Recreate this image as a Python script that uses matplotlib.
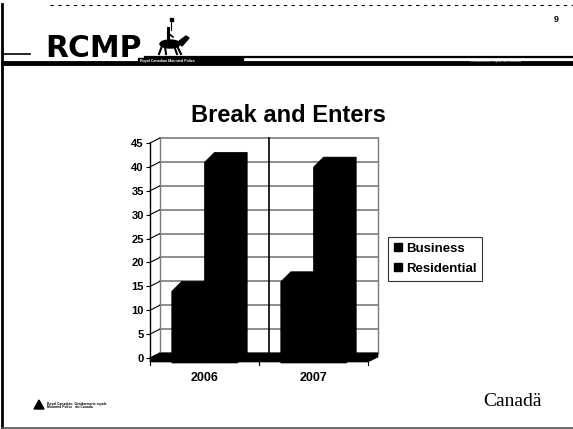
import matplotlib
matplotlib.use("Agg")
import matplotlib.pyplot as plt
from matplotlib.patches import Polygon, Rectangle, Ellipse
from matplotlib.transforms import IdentityTransform
import numpy as np

# ---------------- data ----------------
title = "Break and Enters"
categories = ["2006", "2007"]
series_names = ["Business", "Residential"]
business = [15, 17]
residential = [42, 41]
yticks = [0, 5, 10, 15, 20, 25, 30, 35, 40, 45]

W, H = 573, 429
DPI = 100
fig = plt.figure(figsize=(W / DPI, H / DPI), dpi=DPI)
fig.patch.set_facecolor("white")

BOLD = "Liberation Sans"

# background overlay axes in image pixel coordinates
bg = fig.add_axes([0, 0, 1, 1])
bg.set_xlim(0, W)
bg.set_ylim(H, 0)
bg.axis("off")
bg.set_zorder(0)

# ---- slide frame ----
bg.plot([1.5, 1.5], [4, 427], color="black", lw=2.0)
bg.plot([1.5, W], [427.5, 427.5], color="#555555", lw=1.2)
bg.plot([50, W], [5, 5], color="black", lw=0.8, ls=(0, (3, 4)))

# ---- header ----
bg.text(45, 57, "RCMP", fontsize=21.5, fontweight="bold", family="DejaVu Sans",
        ha="left", va="baseline", color="black")
# crude horse & rider silhouette
bg.add_patch(Ellipse((170, 44), 20, 8, color="black"))
bg.add_patch(Polygon([[178, 42], [186, 36], [189, 38], [182, 46]], closed=True, color="black"))
for x0, x1 in [(162, 159), (165, 166), (174, 177), (177, 181)]:
    bg.plot([x0, x1], [46, 54], color="black", lw=1.5)
bg.plot([168, 168], [41, 28], color="black", lw=2.2)
bg.plot([168, 173], [33, 37], color="black", lw=1.2)
bg.plot([171, 171], [20, 30], color="black", lw=0.8)
bg.add_patch(Rectangle((169.5, 18), 3, 3, color="black"))

bg.text(556, 20, "9", fontsize=6.5, fontweight="bold", family=BOLD,
        ha="center", va="center")
bg.plot([145, W], [57, 57], color="black", lw=1.6)
bg.plot([3, W], [62.5, 62.5], color="black", lw=3.5)
bg.plot([3, 30], [54, 54], color="black", lw=1.2)
bg.add_patch(Rectangle((138, 58), 105, 5, color="black"))
bg.text(140, 60.7, "Royal Canadian Mounted Police", fontsize=2.6, color="white",
        ha="left", va="center", family=BOLD, fontweight="bold")
bg.text(470, 60.7, "Gendarmerie royale du Canada", fontsize=2.6, color="white",
        ha="left", va="center", family=BOLD)

# ---- title ----
bg.text(288, 116, title, fontsize=17, fontweight="bold", family=BOLD,
        ha="center", va="center")

# ---- footer ----
bg.add_patch(Polygon([[34, 409], [39, 400], [44, 409]], closed=True, color="black"))
bg.text(47, 403.5, "Royal Canadian  Gendarmerie royale", fontsize=2.4,
        fontweight="bold", family=BOLD, ha="left", va="center")
bg.text(47, 407.5, "Mounted Police   du Canada", fontsize=2.4,
        fontweight="bold", family=BOLD, ha="left", va="center")
bg.text(513, 402, "Canadä", fontsize=14, family="Liberation Serif",
        ha="center", va="center")

# ---------------- chart ----------------
front_left, front_right = 150, 368
y0_img, y45_img = 358, 143
ax = fig.add_axes([front_left / W, (H - y0_img) / H,
                   (front_right - front_left) / W, (y0_img - y45_img) / H])
ax.set_xlim(-0.5, len(categories) - 0.5)
ax.set_ylim(0, 45)
ax.patch.set_alpha(0)
ax.set_zorder(2)
for s in ["top", "right", "bottom"]:
    ax.spines[s].set_visible(False)
ax.spines["left"].set_color("black")
ax.spines["left"].set_linewidth(1.0)
ax.set_yticks(yticks)
ax.set_yticklabels([str(t) for t in yticks], fontsize=8, fontweight="bold",
                   family=BOLD)
ax.tick_params(axis="y", direction="out", length=3, width=0.8, pad=1.5)
ax.set_xticks(range(len(categories)))
ax.set_xticklabels(categories, fontsize=9, fontweight="bold", family=BOLD)
ax.tick_params(axis="x", length=0, pad=10)

# depth offsets in display pixels (display y up)
WALL_DX, WALL_DY = 10, 5
BAR_DX, BAR_DY = 10, 10
BAR_SHIFT = -5  # bars stand on the front edge of the floor

T = ax.transData
ident = IdentityTransform()


def disp(x, y):
    return T.transform((x, y))


def poly(pts, **kw):
    p = Polygon(np.array(pts), closed=True, transform=ident, **kw)
    fig.patches.append(p)
    return p


def seg(p0, p1, **kw):
    l = matplotlib.lines.Line2D([p0[0], p1[0]], [p0[1], p1[1]], transform=ident, **kw)
    fig.lines.append(l)
    return l


xmin, xmax = -0.5, len(categories) - 0.5
# back wall gridlines and left-wall gridlines
for v in yticks:
    f = disp(xmin, v)
    b0 = disp(xmin, v) + [WALL_DX, WALL_DY]
    b1 = disp(xmax, v) + [WALL_DX, WALL_DY]
    seg(b0, b1, color="#7a7a7a", lw=1.2, zorder=1)
    seg(f, b0, color="black", lw=0.8, zorder=1)
# wall edges
seg(disp(xmin, 0) + [WALL_DX, WALL_DY], disp(xmin, 45) + [WALL_DX, WALL_DY],
    color="#7a7a7a", lw=1.0, zorder=1)
seg(disp(xmax, 0) + [WALL_DX, WALL_DY], disp(xmax, 45) + [WALL_DX, WALL_DY],
    color="#7a7a7a", lw=1.0, zorder=1)
for k in range(1, len(categories)):
    seg(disp(k - 0.5, 0) + [WALL_DX, WALL_DY], disp(k - 0.5, 45) + [WALL_DX, WALL_DY],
        color="black", lw=1.2, zorder=1)

# floor slab
thick = 4
fl = disp(xmin, 0)
fr = disp(xmax, 0)
poly([fl + [0, -thick], fr + [0, -thick], fr + [WALL_DX, WALL_DY - thick],
      fr + [WALL_DX, WALL_DY], fl + [WALL_DX, WALL_DY], fl],
     facecolor="black", edgecolor="black", lw=0.5, zorder=3)
# category boundary ticks on floor front
for k in range(len(categories) + 1):
    p = disp(k - 0.5, 0) + [0, -thick]
    seg(p, p + [0, -3], color="black", lw=0.8, zorder=3)

# bars
bw = 0.30
offs = [-bw / 2, bw / 2]
for si, vals in enumerate([business, residential]):
    for ci, v in enumerate(vals):
        xc = ci + offs[si]
        bl = disp(xc - bw / 2, 0) + [0, BAR_SHIFT]
        br = disp(xc + bw / 2, 0) + [0, BAR_SHIFT]
        tl = disp(xc - bw / 2, v) + [0, BAR_SHIFT]
        tr = disp(xc + bw / 2, v) + [0, BAR_SHIFT]
        d = np.array([BAR_DX, BAR_DY])
        poly([bl, tl, tl + d, tr + d, br + d, br], facecolor="black",
             edgecolor="black", lw=0.5, zorder=4)

# legend
leg_handles = [Rectangle((0, 0), 1, 1, facecolor="black", edgecolor="black")
               for _ in series_names]
leg = fig.legend(leg_handles, series_names, loc="upper left",
                 bbox_to_anchor=(388 / W, 1 - 237 / H), frameon=True,
                 prop={"family": BOLD, "weight": "bold", "size": 9.5},
                 handlelength=0.6, handleheight=0.6, handletextpad=0.3,
                 borderpad=0.45, labelspacing=0.6, borderaxespad=0,
                 fancybox=False)
leg.get_frame().set_edgecolor("black")
leg.get_frame().set_linewidth(0.8)

fig.savefig("out.png", dpi=DPI, facecolor="white")
